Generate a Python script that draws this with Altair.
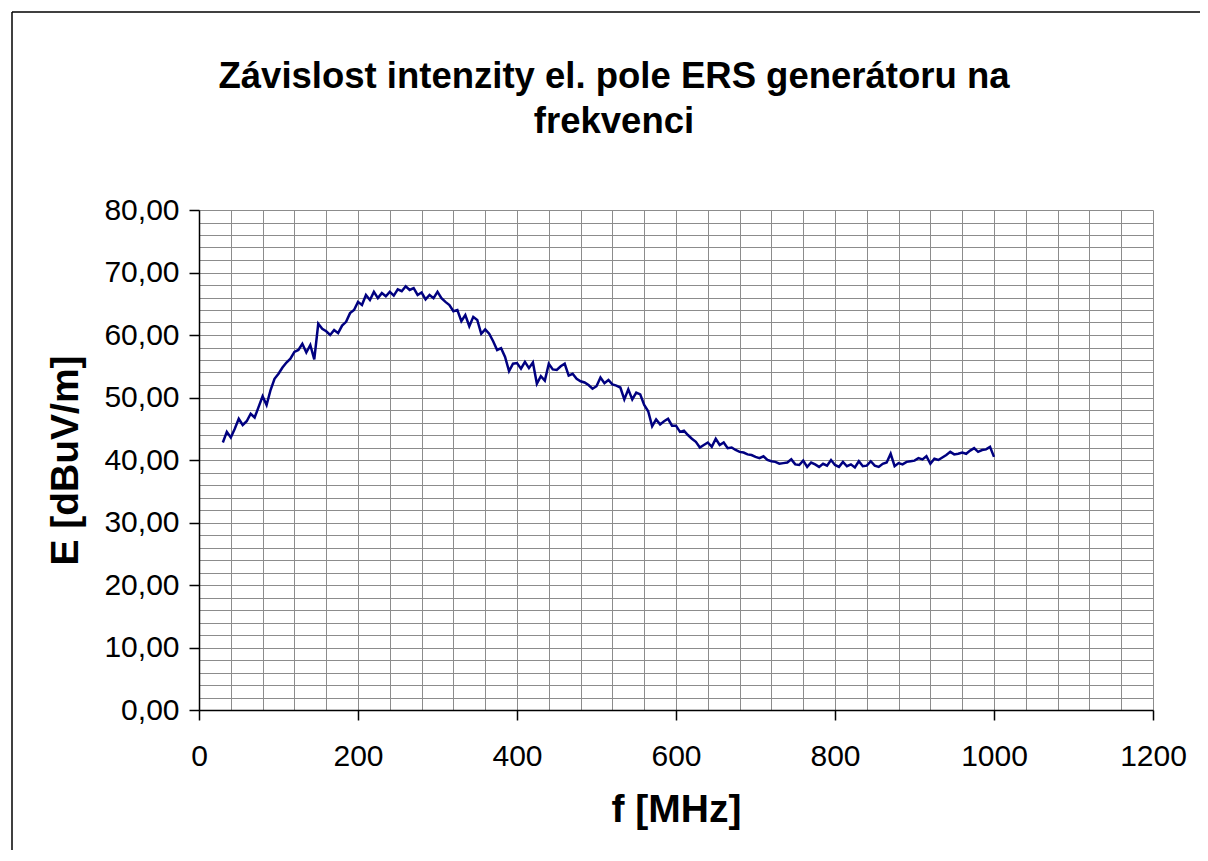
import altair as alt
import pandas as pd

freq_mhz = list(range(30, 1001, 5))
e_dbuv = [
    42.8, 44.5, 43.6, 45.0, 46.6, 45.6, 46.2, 47.4, 46.8, 48.5,
    50.2, 48.8, 51.2, 53.0, 53.8, 54.8, 55.6, 56.2, 57.3, 57.6,
    58.6, 57.2, 58.4, 56.1, 61.8, 61.0, 60.6, 60.0, 60.8, 60.3,
    61.5, 62.1, 63.5, 64.0, 65.3, 64.8, 66.4, 65.6, 66.9, 65.9,
    66.7, 66.2, 66.9, 66.3, 67.3, 67.0, 67.8, 67.2, 67.5, 66.4,
    66.8, 65.7, 66.4, 65.9, 66.9, 65.9, 65.3, 64.8, 63.8, 64.0,
    62.2, 63.2, 61.4, 62.9, 62.4, 60.2, 60.9, 60.2, 59.0, 57.6,
    57.9, 56.5, 54.2, 55.4, 55.5, 54.6, 55.7, 54.7, 55.6, 52.2,
    53.4, 52.7, 55.4, 54.5, 54.4, 55.0, 55.4, 53.5, 53.8, 53.0,
    52.6, 52.4, 52.0, 51.4, 51.8, 53.2, 52.3, 52.8, 52.1, 51.9,
    51.6, 49.7, 51.3, 49.7, 50.8, 50.5, 48.8, 47.8, 45.4, 46.5,
    45.7, 46.2, 46.6, 45.5, 45.5, 44.5, 44.7, 44.0, 43.4, 42.9,
    42.0, 42.4, 42.8, 42.1, 43.4, 42.4, 42.8, 41.9, 42.0, 41.6,
    41.3, 41.2, 40.9, 40.8, 40.5, 40.3, 40.6, 40.0, 39.8, 39.7,
    39.4, 39.5, 39.6, 40.1, 39.3, 39.2, 39.9, 38.9, 39.6, 39.3,
    38.9, 39.4, 39.1, 40.0, 39.2, 38.9, 39.7, 39.0, 39.3, 38.8,
    39.8, 39.0, 39.1, 39.8, 39.1, 38.9, 39.4, 39.6, 41.0, 39.0,
    39.5, 39.3, 39.7, 39.8, 39.9, 40.3, 40.1, 40.6, 39.4, 40.2,
    40.0, 40.4, 40.8, 41.3, 40.9, 41.0, 41.2, 41.0, 41.5, 41.9,
    41.3, 41.6, 41.7, 42.1, 40.5,
]

x_grid = list(range(0, 1201, 40))
y_grid = list(range(0, 81, 2))

title_lines = ["Závislost intenzity el. pole ERS generátoru na", "frekvenci"]
x_title = "f [MHz]"
y_title = "E [dBuV/m]"

df = pd.DataFrame({"f": freq_mhz, "E": e_dbuv})

FONT = "Liberation Sans"

x_axis = alt.Axis(
    values=x_grid,
    title=x_title,
    labelExpr="datum.value % 200 === 0 ? format(datum.value, 'd') : ''",
    labelOverlap=False, labelFlush=False,
    labelFont=FONT, labelFontSize=30, labelColor="black",
    labelPadding=21,
    tickSize=10, tickColor="black", tickWidth=1.5,
    tickOpacity={"expr": "datum.value % 200 === 0 ? 1 : 0"},
    domainColor="black", domainWidth=1.5,
    grid=True, gridColor="#8c8c8c", gridWidth=1,
    titleFont=FONT, titleFontSize=39, titleFontWeight="bold", titleColor="black",
    titlePadding=19,
)
y_axis = alt.Axis(
    values=y_grid,
    title=y_title,
    labelExpr="datum.value % 10 === 0 ? replace(format(datum.value, '.2f'), '.', ',') : ''",
    labelOverlap=False, labelFlush=False,
    labelFont=FONT, labelFontSize=30, labelColor="black",
    labelPadding=10,
    tickSize=10, tickColor="black", tickWidth=1.5,
    tickOpacity={"expr": "datum.value % 10 === 0 ? 1 : 0"},
    domainColor="black", domainWidth=1.5,
    grid=True, gridColor="#8c8c8c", gridWidth=1,
    titleFont=FONT, titleFontSize=39, titleFontWeight="bold", titleColor="black",
    titlePadding=18,
)

line = alt.Chart(df).mark_line(color="#000080", strokeWidth=2.5).encode(
    x=alt.X("f:Q", scale=alt.Scale(domain=[0, 1200], nice=False), axis=x_axis),
    y=alt.Y("E:Q", scale=alt.Scale(domain=[0, 80], nice=False), axis=y_axis),
)

one = pd.DataFrame({"k": [0]})
frame_left = alt.Chart(one).mark_rule(color="black", strokeWidth=1.5, clip=False).encode(
    x=alt.value(-187), y=alt.value(-198), y2=alt.value(800),
)
frame_top = alt.Chart(one).mark_rule(color="black", strokeWidth=1.5, clip=False).encode(
    x=alt.value(-187), x2=alt.value(1100), y=alt.value(-198),
)

chart = alt.layer(line, frame_left, frame_top).properties(
    width=954,
    height=500,
    autosize="none",
    padding={"left": 191, "top": 202, "right": 47, "bottom": 140},
    title=alt.Title(
        text=title_lines,
        font=FONT, fontSize=36.5, fontWeight="bold", color="black",
        anchor="middle", frame="group", dx=-62, lineHeight=45, offset=-129,
    ),
).configure_view(strokeWidth=0)

chart.save("out.html", embed_options={"renderer": "svg", "actions": False})
